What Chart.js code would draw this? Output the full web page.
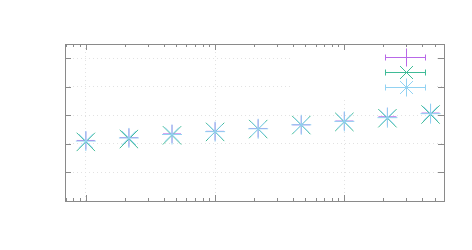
<!DOCTYPE html>
<html>
<head>
<meta charset="utf-8">
<script src="https://cdn.jsdelivr.net/npm/chart.js@4"></script>
<style>
  html, body { margin: 0; padding: 0; background: #fff; }
  #wrap { width: 472px; height: 250px; }
</style>
</head>
<body>
<div id="wrap"><canvas id="plot"></canvas></div>
<script>
// x positions (log axis, 3 points per decade)
var xValues = [1, 2.154, 4.642, 10, 21.54, 46.42, 100, 215.4, 464.2];

// series values
var seriesA = [2.12, 2.22, 2.35, 2.44, 2.54, 2.67, 2.80, 2.95, 3.08];
var seriesB = [2.07, 2.17, 2.30, 2.42, 2.52, 2.66, 2.77, 2.90, 3.03];
var seriesC = [2.10, 2.21, 2.33, 2.43, 2.53, 2.67, 2.79, 2.92, 3.06];

// axis ticks
var xMajorTicks = [1, 10, 100];
var yTicks = [1, 2, 3, 4, 5];

var colA = '#b868e8';
var colB = '#3fbb96';
var colC = '#92d2f2';

function toPoints(ys) {
    return xValues.map(function (x, i) { return { x: x, y: ys[i] }; });
}

var ctx = document.getElementById('plot').getContext('2d');

// legend box + frame + ticks, drawn gnuplot style
var framePlugin = {
    id: 'frame',
    beforeDatasetsDraw: function (chart) {
        var a = chart.chartArea, c = chart.ctx;
        // legend area hides the grid behind it
        c.save();
        c.fillStyle = '#ffffff';
        c.fillRect(a.right - 151, a.top + 1, 142, 54);
        c.restore();
    },
    afterDraw: function (chart) {
        var a = chart.chartArea, c = chart.ctx;
        var xs = chart.scales.x, ys = chart.scales.y;
        c.save();
        c.strokeStyle = '#8a8a8a';
        c.lineWidth = 1;
        c.beginPath();
        // x ticks, top and bottom
        for (var d = 0.1; d <= 1000; d *= 10) {
            for (var m = 1; m <= 9; m++) {
                var v = d * m;
                if (v < xs.min || v > xs.max) continue;
                var px = Math.round(xs.getPixelForValue(v)) + 0.5;
                var len = (m === 1) ? 6 : 3;
                c.moveTo(px, a.bottom); c.lineTo(px, a.bottom - len);
                c.moveTo(px, a.top); c.lineTo(px, a.top + len);
            }
        }
        // y ticks, left and right
        yTicks.forEach(function (v) {
            var py = Math.round(ys.getPixelForValue(v)) + 0.5;
            c.moveTo(a.left, py); c.lineTo(a.left + 6, py);
            c.moveTo(a.right, py); c.lineTo(a.right - 6, py);
        });
        c.stroke();
        c.strokeRect(Math.round(a.left) + 0.5, Math.round(a.top) + 0.5,
                     Math.round(a.right - a.left), Math.round(a.bottom - a.top));

        // legend samples with x error bars
        var samples = [
            { col: colA, style: 'plus' },
            { col: colB, style: 'x' },
            { col: colC, style: 'star' }
        ];
        var x0 = a.right - 59, x1 = a.right - 18, xm = Math.round((x0 + x1) / 2) + 0.5;
        samples.forEach(function (s, i) {
            var y = Math.round(a.top + 12.5 + i * 15.3) + 0.5;
            c.strokeStyle = s.col;
            c.beginPath();
            c.moveTo(x0, y); c.lineTo(x1, y);
            c.moveTo(x0 + 0.5, y - 3); c.lineTo(x0 + 0.5, y + 3);
            c.moveTo(x1 - 0.5, y - 3); c.lineTo(x1 - 0.5, y + 3);
            var r = 9, q = 6.5;
            if (s.style === 'plus' || s.style === 'star') {
                c.moveTo(xm - r, y); c.lineTo(xm + r, y);
                c.moveTo(xm, y - r); c.lineTo(xm, y + r);
            }
            if (s.style === 'x' || s.style === 'star') {
                c.moveTo(xm - q, y - q); c.lineTo(xm + q, y + q);
                c.moveTo(xm - q, y + q); c.lineTo(xm + q, y - q);
            }
            c.stroke();
        });
        c.restore();
    }
};

var chart = new Chart(ctx, {
    type: 'scatter',
    data: {
        datasets: [
            {
                label: 'a',
                data: toPoints(seriesA),
                pointStyle: 'cross',
                pointRadius: 9,
                borderColor: colA,
                backgroundColor: colA,
                borderWidth: 1,
                order: 3
            },
            {
                label: 'b',
                data: toPoints(seriesB),
                pointStyle: 'crossRot',
                pointRadius: 13,
                borderColor: colB,
                backgroundColor: colB,
                borderWidth: 1,
                order: 2
            },
            {
                label: 'c',
                data: toPoints(seriesC),
                pointStyle: 'star',
                pointRadius: 10,
                borderColor: colC,
                backgroundColor: colC,
                borderWidth: 1,
                order: 1
            }
        ]
    },
    options: {
        responsive: true,
        maintainAspectRatio: false,
        animation: false,
        layout: { padding: { left: 65, top: 44, right: 28, bottom: 49 } },
        plugins: {
            legend: { display: false },
            tooltip: { enabled: false }
        },
        scales: {
            x: {
                type: 'logarithmic',
                min: 0.69,
                max: 590,
                ticks: { display: false },
                border: { display: false, dash: [1, 3] },
                grid: {
                    drawTicks: false,
                    color: function (c) {
                        var v = c.tick && c.tick.value;
                        return xMajorTicks.indexOf(v) >= 0 ? '#e2e2e2' : 'rgba(0,0,0,0)';
                    }
                }
            },
            y: {
                min: 0,
                max: 5.5,
                ticks: { display: false, stepSize: 1 },
                border: { display: false, dash: [1, 3] },
                grid: {
                    drawTicks: false,
                    color: function (c) {
                        var v = c.tick && c.tick.value;
                        return yTicks.indexOf(v) >= 0 ? '#e2e2e2' : 'rgba(0,0,0,0)';
                    }
                }
            }
        }
    },
    plugins: [framePlugin]
});
</script>
</body>
</html>
